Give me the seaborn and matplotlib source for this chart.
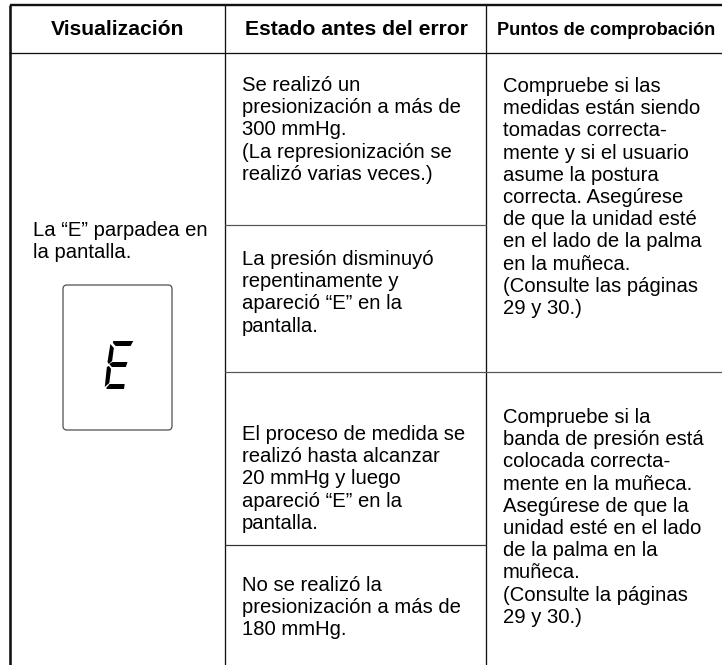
import matplotlib
matplotlib.use("Agg")
import matplotlib.pyplot as plt
from matplotlib.patches import FancyBboxPatch, Polygon
import seaborn as sns

# ---- data (table content) ----
headers = ["Visualización", "Estado antes del error", "Puntos de comprobación"]

display_text = ["La “E” parpadea en", "la pantalla."]

state_rows = [
    ["Se realizó un", "presionización a más de", "300 mmHg.",
     "(La represionización se", "realizó varias veces.)"],
    ["La presión disminuyó", "repentinamente y", "apareció “E” en la", "pantalla."],
    ["El proceso de medida se", "realizó hasta alcanzar", "20 mmHg y luego",
     "apareció “E” en la", "pantalla."],
    ["No se realizó la", "presionización a más de", "180 mmHg."],
]

check_blocks = [
    ["Compruebe si las", "medidas están siendo", "tomadas correcta-",
     "mente y si el usuario", "asume la postura", "correcta. Asegúrese",
     "de que la unidad esté", "en el lado de la palma", "en la muñeca.",
     "(Consulte las páginas", "29 y 30.)"],
    ["Compruebe si la", "banda de presión está", "colocada correcta-",
     "mente en la muñeca.", "Asegúrese de que la", "unidad esté en el lado",
     "de la palma en la", "muñeca.", "(Consulte la páginas", "29 y 30.)"],
]

# ---- layout (pixels) ----
W, H = 722, 665
sns.set_theme(style="white")
plt.rcParams["font.family"] = ["Liberation Sans", "DejaVu Sans"]

fig = plt.figure(figsize=(W / 100, H / 100), dpi=100)
ax = fig.add_axes([0, 0, 1, 1])
ax.set_xlim(0, W)
ax.set_ylim(H, 0)
ax.axis("off")

PX = 72 / 100  # points per pixel
left, top, head_bot = 10, 5, 53
c1, c2 = 225, 486
row_div = [225, 372, 545]

# borders
ax.plot([left, W], [top, top], color="#111111", lw=2.4 * PX, solid_capstyle="butt")
ax.plot([left, left], [top, H], color="#111111", lw=2.6 * PX, solid_capstyle="butt")
ax.plot([left, W], [head_bot, head_bot], color="#111111", lw=1.3 * PX)
ax.plot([c1, c1], [top, H], color="#111111", lw=1.3 * PX)
ax.plot([c2, c2], [top, H], color="#111111", lw=1.3 * PX)
ax.plot([c1, c2], [row_div[0], row_div[0]], color="#555555", lw=1.2 * PX)
ax.plot([c1, W], [row_div[1], row_div[1]], color="#555555", lw=1.2 * PX)
ax.plot([c1, c2], [row_div[2], row_div[2]], color="#333333", lw=1.2 * PX)

# headers
head_x = [118, 356, 606]
head_size = [15.2, 15.2, 13.1]
for hx, txt, fs in zip(head_x, headers, head_size):
    ax.text(hx, 35, txt, ha="center", va="baseline", fontsize=fs,
            fontweight="bold", color="black")

BODY = 14.6
PITCH = 22.2


def block(x, y0, lines):
    for i, ln in enumerate(lines):
        ax.text(x, y0 + i * PITCH, ln, ha="left", va="baseline",
                fontsize=BODY, color="black")


block(33, 236, display_text)
state_y = [91, 265, 440, 591]
for y0, lines in zip(state_y, state_rows):
    block(242, y0, lines)
check_y = [92, 423]
for y0, lines in zip(check_y, check_blocks):
    block(503, y0, lines)

# LCD display box with a seven-segment "E"
box = FancyBboxPatch((63, 285), 109, 145, boxstyle="round,pad=0,rounding_size=4",
                     fc="white", ec="#555555", lw=1.3 * PX)
ax.add_patch(box)

gx0, gy1, slant = 104, 389, 0.13


def seg(pts):
    out = [(x + (gy1 - y) * slant, y) for x, y in pts]
    ax.add_patch(Polygon(out, closed=True, fc="black", ec="none"))


# top bar
seg([(107, 341), (127, 341), (125, 346), (110, 346), (107, 343)])
# upper vertical
seg([(104.5, 344), (108.5, 348), (108.5, 361), (105.5, 364), (104, 362)])
# middle bar
seg([(106, 364), (109, 362), (124, 362), (123, 367), (109, 367)])
# lower vertical
seg([(104, 367), (106, 366), (108.5, 369), (108.5, 383), (104.5, 387)])
# bottom bar
seg([(106, 388), (109, 384), (124, 384), (124, 389), (107, 389)])

fig.savefig("out.png", dpi=100, facecolor="white")
